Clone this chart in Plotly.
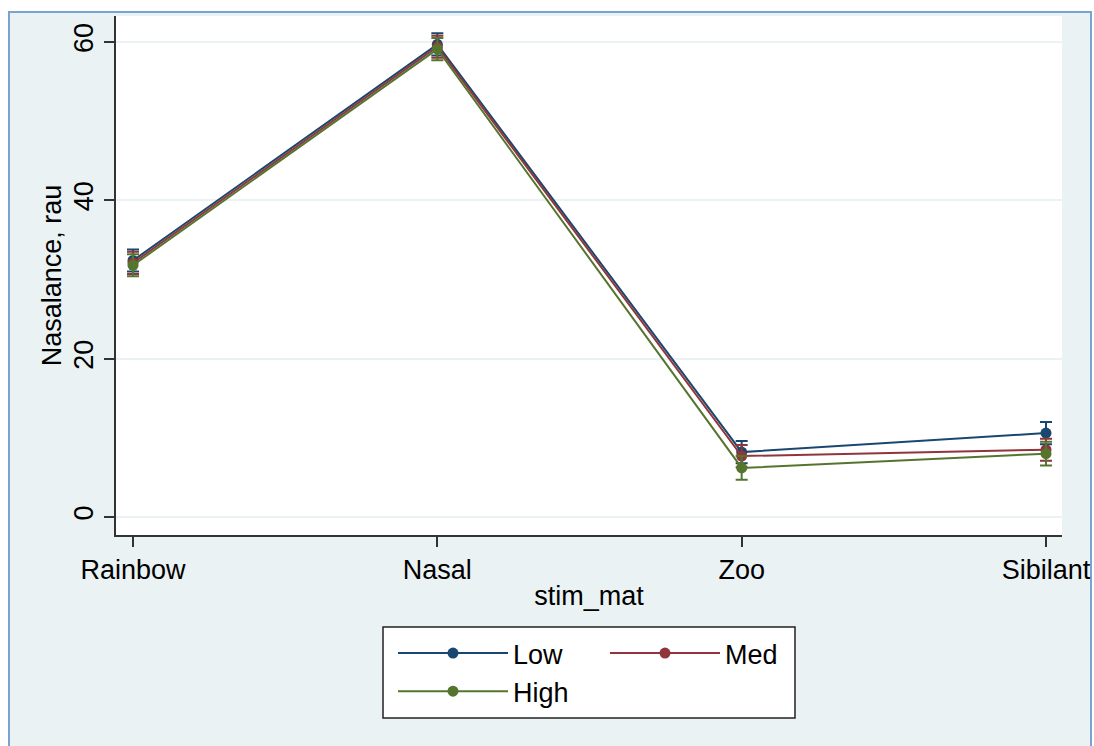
import plotly.graph_objects as go

# Stimulus materials on the x axis
stim_mat = ["Rainbow", "Nasal", "Zoo", "Sibilant"]

# Mean nasalance (rau) per group and its error half-width
low_mean = [32.4, 59.7, 8.2, 10.6]
low_err = [1.4, 1.4, 1.4, 1.4]
med_mean = [32.1, 59.4, 7.7, 8.5]
med_err = [1.4, 1.4, 1.4, 1.4]
high_mean = [31.8, 59.1, 6.2, 8.0]
high_err = [1.4, 1.4, 1.5, 1.5]

y_ticks = [0, 20, 40, 60]

FONT = "Liberation Sans, Arial, sans-serif"
NAVY = "#1a476f"
MAROON = "#90353b"
GREEN = "#55752f"
BG = "#eaf2f3"

W, H = 1094, 746
ML, MR, MT, MB = 116, 32, 16, 211
PW, PH = W - ML - MR, H - MT - MB


def px_x(x):
    return (x - ML) / PW


def px_y(y):
    return (H - MB - y) / PH


fig = go.Figure()

series = [
    ("Low", low_mean, low_err, NAVY, "legend"),
    ("Med", med_mean, med_err, MAROON, "legend2"),
    ("High", high_mean, high_err, GREEN, "legend"),
]
for name, mean, err, color, leg in series:
    fig.add_trace(go.Scatter(
        x=stim_mat, y=mean, name=name, mode="lines+markers",
        line=dict(color=color, width=2),
        marker=dict(color=color, size=11),
        error_y=dict(type="data", array=err, visible=True,
                     color=color, thickness=2, width=6),
        legend=leg,
    ))

# figure frame: light panel with blue border, white plot region, legend box
shapes = [
    dict(type="rect", xref="paper", yref="paper",
         x0=px_x(9), x1=px_x(1091), y0=px_y(760), y1=px_y(12),
         fillcolor=BG, line=dict(color="#7aa3d3", width=2), layer="below"),
    dict(type="rect", xref="paper", yref="paper", x0=0, x1=1, y0=0, y1=1,
         fillcolor="white", line=dict(width=0), layer="below"),
    dict(type="rect", xref="paper", yref="paper",
         x0=px_x(383), x1=px_x(795), y0=px_y(718), y1=px_y(627),
         fillcolor="white", line=dict(color="#222222", width=1.5), layer="below"),
]

legend_common = dict(
    bgcolor="rgba(0,0,0,0)", borderwidth=0,
    font=dict(family=FONT, size=27, color="black"),
    xanchor="left", yanchor="top", itemwidth=110,
    orientation="v",
)

fig.update_layout(
    width=W, height=H, autosize=False,
    margin=dict(l=ML, r=MR, t=MT, b=MB),
    paper_bgcolor="white", plot_bgcolor="white",
    font=dict(family=FONT, size=27, color="black"),
    shapes=shapes,
    showlegend=True,
    legend=dict(x=px_x(393), y=px_y(629), **legend_common),
    legend2=dict(x=px_x(605), y=px_y(629), **legend_common),
    xaxis=dict(
        range=[-0.0559, 3.0526], showgrid=False, zeroline=False,
        automargin=False,
        showline=True, linecolor="#333333", linewidth=1.5,
        ticks="outside", ticklen=10, tickcolor="#333333", tickwidth=1.5,
        tickfont=dict(family=FONT, size=27, color="black"),
        title=dict(text="stim_mat", font=dict(family=FONT, size=27), standoff=2),
    ),
    yaxis=dict(
        range=[-2.27, 63.28], tickvals=y_ticks, showgrid=True,
        automargin=False,
        gridcolor=BG, gridwidth=2, zeroline=False,
        showline=True, linecolor="#333333", linewidth=1.5,
        ticks="outside", ticklen=10, tickcolor="#333333", tickwidth=1.5,
        tickangle=-90,
        tickfont=dict(family=FONT, size=27, color="black"),
        title=dict(text="Nasalance, rau", font=dict(family=FONT, size=27), standoff=0),
    ),
)

fig.write_html("out.html", config={"responsive": False})
